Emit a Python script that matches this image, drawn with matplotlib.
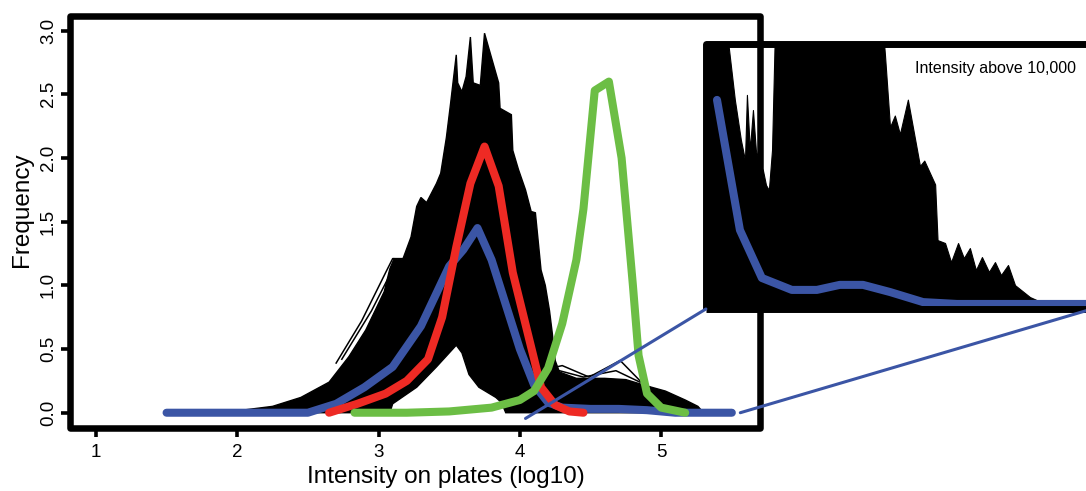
import numpy as np
import matplotlib
matplotlib.use('Agg')
import matplotlib.pyplot as plt
from matplotlib.patches import Rectangle, ConnectionPatch

plt.rcParams['font.family'] = ['Liberation Sans', 'DejaVu Sans']

# --- datos ---
# contorno de la nube negra (curvas de cada placa), borde superior e inferior
nubeArribaX = [1.98, 2.0, 2.25, 2.45, 2.65, 2.79, 2.91, 3.04, 3.08, 3.11, 3.17, 3.23, 3.27, 3.30,
               3.34, 3.41, 3.44, 3.48, 3.51, 3.55, 3.56, 3.59, 3.62, 3.65, 3.67, 3.72, 3.75, 3.85,
               3.86, 3.94, 3.95, 3.99, 4.04, 4.08, 4.11, 4.15, 4.18, 4.21, 4.23, 4.25, 4.28, 4.4,
               4.6, 4.75, 4.9, 5.03, 5.17, 5.26, 5.3]
nubeArribaY = [0.0, 0.015, 0.05, 0.12, 0.24, 0.44, 0.65, 0.95, 1.13, 1.21, 1.20, 1.38, 1.62, 1.69,
               1.65, 1.80, 1.88, 2.16, 2.43, 2.81, 2.59, 2.52, 2.64, 2.95, 2.59, 2.57, 2.98, 2.59,
               2.39, 2.34, 2.06, 1.91, 1.75, 1.58, 1.57, 1.12, 1.0, 0.80, 0.62, 0.41, 0.32, 0.27,
               0.27, 0.26, 0.21, 0.17, 0.10, 0.05, 0.0]
nubeAbajoX = [1.98, 3.06, 3.08, 3.10, 3.27, 3.41, 3.55, 3.59, 3.64, 3.71, 3.83, 3.87, 3.90, 5.3]
nubeAbajoY = [0.0, 0.0, 0.0, 0.07, 0.20, 0.36, 0.53, 0.47, 0.30, 0.20, 0.12, 0.08, 0.0, 0.0]

# curvas sueltas fuera de la nube
sueltas = [
    ([2.70, 2.88, 3.05, 3.10, 3.17], [0.39, 0.72, 1.10, 1.21, 1.21]),
    ([2.74, 2.95, 3.12], [0.42, 0.80, 1.17]),
    ([4.26, 4.30, 4.49, 4.71, 4.86, 4.95], [0.36, 0.37, 0.28, 0.41, 0.24, 0.18]),
    ([4.28, 4.45, 4.68, 4.85], [0.33, 0.28, 0.33, 0.24]),
]

azulX = [1.5, 2.0, 2.5, 2.7, 2.9, 3.1, 3.3, 3.5, 3.6, 3.7, 3.8, 3.9, 4.0, 4.1, 4.2, 4.3, 4.5,
         4.7, 4.9, 5.1, 5.5]
azulY = [0.0, 0.0, 0.0, 0.07, 0.20, 0.36, 0.68, 1.15, 1.28, 1.45, 1.20, 0.85, 0.50, 0.22, 0.08,
         0.04, 0.03, 0.03, 0.02, 0.0, 0.0]

rojoX = [2.65, 2.85, 3.05, 3.2, 3.35, 3.45, 3.55, 3.65, 3.75, 3.85, 3.95, 4.05, 4.15, 4.25,
         4.35, 4.45]
rojoY = [0.0, 0.07, 0.15, 0.25, 0.42, 0.75, 1.30, 1.80, 2.09, 1.78, 1.10, 0.65, 0.20, 0.06,
         0.01, 0.0]

verdeX = [2.83, 3.2, 3.5, 3.8, 4.0, 4.1, 4.2, 4.3, 4.4, 4.45, 4.53, 4.63, 4.72, 4.8, 4.84,
          4.9, 5.0, 5.17]
verdeY = [0.0, 0.0, 0.01, 0.04, 0.10, 0.17, 0.35, 0.70, 1.20, 1.60, 2.53, 2.60, 2.00, 1.00,
          0.45, 0.15, 0.04, 0.0]

# recuadro ampliado (intensidad > 10^4)
insetX = [4.0, 4.087, 4.095, 4.120, 4.145, 4.162, 4.170, 4.182, 4.195, 4.207, 4.224, 4.236,
          4.249, 4.261, 4.274, 4.286, 4.734, 4.742, 4.763, 4.783, 4.804, 4.837, 4.887,
          4.905, 4.95, 4.96, 4.991, 5.016, 5.045, 5.069, 5.094, 5.119, 5.144, 5.173, 5.198,
          5.223, 5.252, 5.281, 5.343, 5.397, 5.6]
insetY = [1.05, 1.05, 0.985, 0.789, 0.638, 0.562, 0.808, 0.60, 0.751, 0.60, 0.543, 0.525,
          0.468, 0.449, 0.60, 1.05, 1.05, 0.96, 0.687, 0.73, 0.66, 0.79, 0.54,
          0.56, 0.47, 0.26, 0.249, 0.177, 0.249, 0.192, 0.230, 0.147, 0.196, 0.14, 0.177,
          0.128, 0.166, 0.09, 0.045, 0.023, 0.015]
insetAzulX = [4.046, 4.141, 4.232, 4.356, 4.46, 4.555, 4.651, 4.763, 4.90, 5.04, 5.6]
insetAzulY = [0.789, 0.298, 0.117, 0.072, 0.072, 0.091, 0.091, 0.064, 0.026, 0.019, 0.019]

xTicks = [1, 2, 3, 4, 5]
yTicks = [0.0, 0.5, 1.0, 1.5, 2.0, 2.5, 3.0]

azul = '#3b55a5'
rojo = '#ee2a24'
verde = '#6cbe45'
lwColor = 5.8

# --- grafico ---
fig = plt.figure(figsize=(10.86, 4.91), dpi=100)
ax = fig.add_axes([0.0645, 0.1283, 0.6354, 0.8391])

poliX = np.concatenate([nubeArribaX, nubeAbajoX[::-1]])
poliY = np.concatenate([nubeArribaY, nubeAbajoY[::-1]])
ax.fill(poliX, poliY, facecolor='black', edgecolor='black', lw=1.0, zorder=1)
for sx, sy in sueltas:
    ax.plot(sx, sy, color='black', lw=1.1, zorder=1)

ax.plot(azulX, azulY, color=azul, lw=lwColor, solid_capstyle='round', solid_joinstyle='round', zorder=2)
ax.plot(rojoX, rojoY, color=rojo, lw=lwColor, solid_capstyle='round', solid_joinstyle='round', zorder=3)
ax.plot(verdeX, verdeY, color=verde, lw=lwColor, solid_capstyle='round', solid_joinstyle='round', zorder=4)

ax.set_xlim(0.817, 5.70)
ax.set_ylim(-0.12, 3.115)
ax.set_xticks(xTicks)
ax.set_xticklabels([str(t) for t in xTicks], fontsize=13.5)
ax.set_yticks(yTicks)
ax.set_yticklabels(['%.1f' % t for t in yTicks], fontsize=13.5, rotation=90, va='center')
ax.tick_params(axis='both', direction='out', length=6.5, width=2.6, color='black')
ax.tick_params(axis='x', pad=5)
ax.tick_params(axis='y', pad=3)
for s in ax.spines.values():
    s.set_visible(False)
ax.add_patch(Rectangle((0, 0), 1, 1, transform=ax.transAxes, fill=False, lw=4.7,
                       edgecolor='black', joinstyle='round', clip_on=False, zorder=6))
ax.set_xlabel('Intensity on plates (log10)', fontsize=17.5)
ax.xaxis.set_label_coords(0.545, -0.092)
ax.set_ylabel('Frequency', fontsize=17.5)
ax.yaxis.set_label_coords(-0.054, 0.529)

# recuadro
axin = fig.add_axes([0.650, 0.3707, 0.3555, 0.5397])
axin.patch.set_alpha(0)
axin.fill_between(insetX, 0, insetY, facecolor='black', edgecolor='black', lw=0.8)
axin.plot(insetAzulX, insetAzulY, color=azul, lw=lwColor, solid_capstyle='round', solid_joinstyle='round')
axin.set_xlim(4.0, 5.6)
axin.set_ylim(0, 1.0)
axin.set_xticks([])
axin.set_yticks([])
for s in axin.spines.values():
    s.set_visible(False)
axin.add_patch(Rectangle((0, 0), 1, 1, transform=axin.transAxes, fill=False, lw=5.0,
                         edgecolor='black', joinstyle='round', clip_on=False, zorder=6))
axin.text(0.751, 0.906, 'Intensity above 10,000', transform=axin.transAxes,
          fontsize=11.5, ha='center', va='center')

# lineas que unen la zona ampliada
for xa, xb in [((4.04, -0.045), (0, 0)), ((5.56, 0.0), (1, 0))]:
    con = ConnectionPatch(xyA=xa, coordsA=ax.transData, xyB=xb, coordsB=axin.transAxes,
                          color=azul, lw=2.2)
    fig.add_artist(con)

fig.savefig('out.png', dpi=100)
